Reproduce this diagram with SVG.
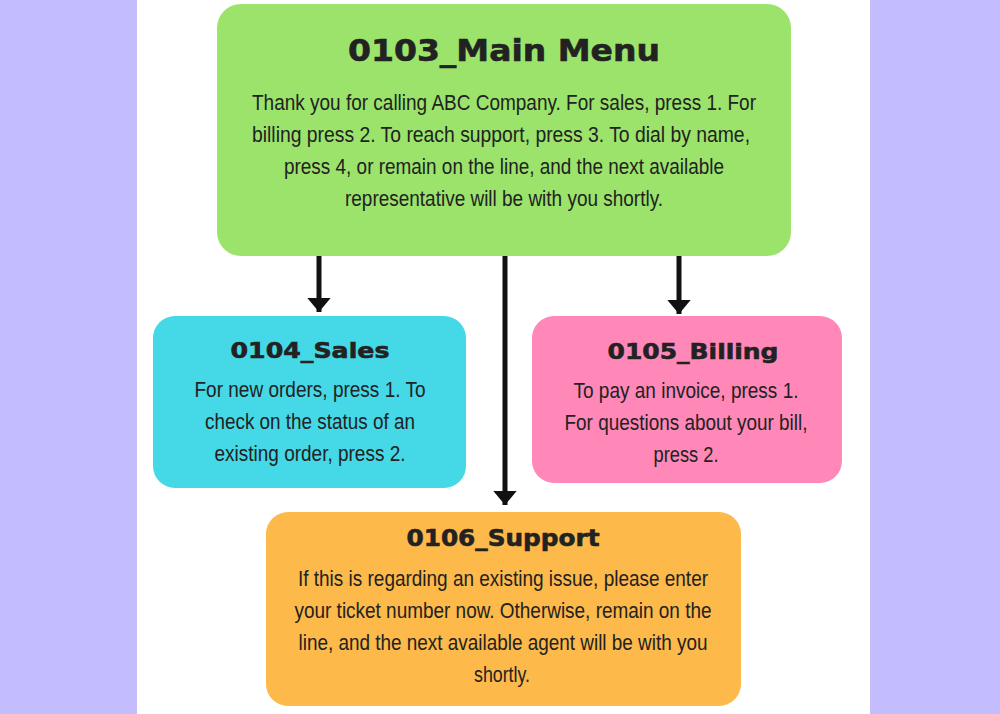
<svg xmlns="http://www.w3.org/2000/svg" width="1000" height="714" viewBox="0 0 1000 714">
<defs>
<style>
.t{font-family:"DejaVu Sans","Liberation Sans",sans-serif;font-weight:bold;fill:#222;stroke:#222;stroke-width:0.6;text-anchor:middle}
.b{font-family:"Liberation Sans",Arial,sans-serif;font-size:22px;fill:#222;text-anchor:middle}
.c{stroke:#111;stroke-width:5;fill:none}
</style>
<marker id="ah" viewBox="0 0 6 10" refX="6" refY="5" markerWidth="2.8" markerHeight="5" orient="auto" markerUnits="strokeWidth">
<path d="M0,0 L6,5 L0,10 Z" fill="#111"/>
</marker>
</defs>
<rect width="1000" height="714" fill="#c3bcfd"/>
<rect x="137" y="0" width="733" height="714" fill="#ffffff"/>
<g id="connectors">
<line class="c" x1="319" y1="256" x2="319" y2="312" marker-end="url(#ah)"/>
<line class="c" x1="505" y1="256" x2="505" y2="505" marker-end="url(#ah)"/>
<line class="c" x1="679" y1="256" x2="679" y2="314" marker-end="url(#ah)"/>
</g>
<g id="main">
<rect x="217" y="4" width="574" height="252" rx="24" fill="#9be36b"/>
<text class="t" x="504" y="61" font-size="31" textLength="312" lengthAdjust="spacingAndGlyphs">0103_Main Menu</text>
<text class="b" x="504" y="110" textLength="504" lengthAdjust="spacingAndGlyphs">Thank you for calling ABC Company. For sales, press 1. For</text>
<text class="b" x="501" y="142" textLength="498" lengthAdjust="spacingAndGlyphs">billing press 2. To reach support, press 3. To dial by name,</text>
<text class="b" x="504" y="174" textLength="440" lengthAdjust="spacingAndGlyphs">press 4, or remain on the line, and the next available</text>
<text class="b" x="504" y="206" textLength="318" lengthAdjust="spacingAndGlyphs">representative will be with you shortly.</text>
</g>
<g id="sales">
<rect x="153" y="316" width="313" height="172" rx="22" fill="#45d8e6"/>
<text class="t" x="310" y="358" font-size="22" textLength="159" lengthAdjust="spacingAndGlyphs">0104_Sales</text>
<text class="b" x="310" y="397" textLength="231" lengthAdjust="spacingAndGlyphs">For new orders, press 1. To</text>
<text class="b" x="310" y="429" textLength="210" lengthAdjust="spacingAndGlyphs">check on the status of an</text>
<text class="b" x="310" y="461" textLength="191" lengthAdjust="spacingAndGlyphs">existing order, press 2.</text>
</g>
<g id="billing">
<rect x="532" y="316" width="310" height="167" rx="22" fill="#ff88b8"/>
<text class="t" x="693" y="359" font-size="22" textLength="171" lengthAdjust="spacingAndGlyphs">0105_Billing</text>
<text class="b" x="686" y="398" textLength="225" lengthAdjust="spacingAndGlyphs">To pay an invoice, press 1.</text>
<text class="b" x="686" y="430" textLength="243" lengthAdjust="spacingAndGlyphs">For questions about your bill,</text>
<text class="b" x="686" y="462" textLength="65" lengthAdjust="spacingAndGlyphs">press 2.</text>
</g>
<g id="support">
<rect x="266" y="512" width="475" height="194" rx="22" fill="#fdb94a"/>
<text class="t" x="503" y="546" font-size="23" textLength="193" lengthAdjust="spacingAndGlyphs">0106_Support</text>
<text class="b" x="503" y="586" textLength="410" lengthAdjust="spacingAndGlyphs">If this is regarding an existing issue, please enter</text>
<text class="b" x="503" y="618" textLength="417" lengthAdjust="spacingAndGlyphs">your ticket number now. Otherwise, remain on the</text>
<text class="b" x="503" y="650" textLength="409" lengthAdjust="spacingAndGlyphs">line, and the next available agent will be with you</text>
<text class="b" x="502" y="682" textLength="56" lengthAdjust="spacingAndGlyphs">shortly.</text>
</g>
</svg>
